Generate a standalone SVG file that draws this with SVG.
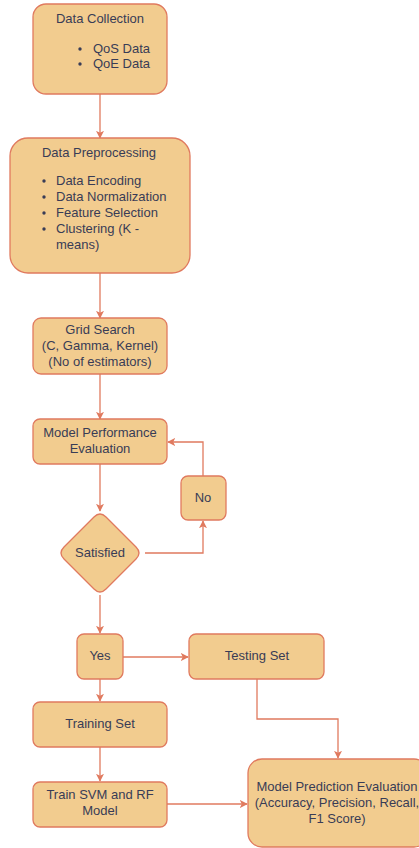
<svg xmlns="http://www.w3.org/2000/svg" width="419" height="848" viewBox="0 0 419 848">
  <defs>
    <marker id="arrow" viewBox="0 0 10 10" refX="9" refY="5" markerWidth="8" markerHeight="8" markerUnits="userSpaceOnUse" orient="auto">
      <path d="M0,0 L10,5 L0,10 L2.5,5 Z" fill="#E07A5F"/>
    </marker>
  </defs>
  <style>
    .node { fill: #F2CC8F; stroke: #E07A5F; stroke-width: 1.3; }
    .edge { fill: none; stroke: #E07A5F; stroke-width: 1.3; marker-end: url(#arrow); }
    text { font-family: "Liberation Sans", Arial, Helvetica, sans-serif; font-size: 13px; fill: #393C56; }
    .c { text-anchor: middle; }
    .dot { fill: #393C56; }
  </style>
  <rect width="419" height="848" fill="#ffffff"/>

  <g id="connectors">
    <path class="edge" d="M100,94 L100,138"/>
    <path class="edge" d="M100,273 L100,318"/>
    <path class="edge" d="M100,374 L100,419"/>
    <path class="edge" d="M100,464 L100,511"/>
    <path class="edge" d="M145,553 L203,553 L203,521"/>
    <path class="edge" d="M203,476 L203,442 L168,442"/>
    <path class="edge" d="M100,595 L100,633"/>
    <path class="edge" d="M123,657 L188,657"/>
    <path class="edge" d="M100,679 L100,701"/>
    <path class="edge" d="M257,679 L257,719 L338,719 L338,758"/>
    <path class="edge" d="M100,747 L100,781"/>
    <path class="edge" d="M167,804 L247,804"/>
  </g>

  <g id="data-collection">
    <rect class="node" x="33" y="4" width="134" height="90" rx="13"/>
    <text class="c" x="100" y="23">Data Collection</text>
    <circle class="dot" cx="80" cy="49" r="1.7"/>
    <text x="93" y="53">QoS Data</text>
    <circle class="dot" cx="80" cy="64" r="1.7"/>
    <text x="93" y="68">QoE Data</text>
  </g>

  <g id="data-preprocessing">
    <rect class="node" x="10" y="138" width="180" height="135" rx="18"/>
    <text class="c" x="99" y="157">Data Preprocessing</text>
    <circle class="dot" cx="44" cy="181" r="1.7"/>
    <text x="56" y="185">Data Encoding</text>
    <circle class="dot" cx="44" cy="197" r="1.7"/>
    <text x="56" y="201">Data Normalization</text>
    <circle class="dot" cx="44" cy="213" r="1.7"/>
    <text x="56" y="217">Feature Selection</text>
    <circle class="dot" cx="44" cy="229" r="1.7"/>
    <text x="56" y="233">Clustering (K -</text>
    <text x="56" y="249">means)</text>
  </g>

  <g id="grid-search">
    <rect class="node" x="33" y="318" width="134" height="56" rx="8"/>
    <text class="c" x="100" y="334">Grid Search</text>
    <text class="c" x="100" y="350">(C, Gamma, Kernel)</text>
    <text class="c" x="100" y="366">(No of estimators)</text>
  </g>

  <g id="model-performance">
    <rect class="node" x="33" y="419" width="134" height="45" rx="7"/>
    <text class="c" x="100" y="437">Model Performance</text>
    <text class="c" x="100" y="453">Evaluation</text>
  </g>

  <g id="satisfied">
    <path class="node" d="M94,517 Q100,511 106,517 L136,547 Q142,553 136,559 L106,589 Q100,595 94,589 L64,559 Q58,553 64,547 Z"/>
    <text class="c" x="100" y="557">Satisfied</text>
  </g>

  <g id="no">
    <rect class="node" x="181" y="476" width="45" height="44" rx="7"/>
    <text class="c" x="203" y="502">No</text>
  </g>

  <g id="yes">
    <rect class="node" x="77" y="634" width="46" height="45" rx="7"/>
    <text class="c" x="100" y="660">Yes</text>
  </g>

  <g id="testing-set">
    <rect class="node" x="189" y="634" width="135" height="45" rx="7"/>
    <text class="c" x="257" y="660">Testing Set</text>
  </g>

  <g id="training-set">
    <rect class="node" x="33" y="702" width="134" height="45" rx="7"/>
    <text class="c" x="100" y="728">Training Set</text>
  </g>

  <g id="train-model">
    <rect class="node" x="33" y="782" width="134" height="45" rx="7"/>
    <text class="c" x="100" y="799">Train SVM and RF</text>
    <text class="c" x="100" y="815">Model</text>
  </g>

  <g id="model-prediction">
    <rect class="node" x="248" y="759" width="180" height="88" rx="14"/>
    <text class="c" x="337" y="791">Model Prediction Evaluation</text>
    <text class="c" x="337" y="807">(Accuracy, Precision, Recall,</text>
    <text class="c" x="337" y="823">F1 Score)</text>
  </g>
</svg>
